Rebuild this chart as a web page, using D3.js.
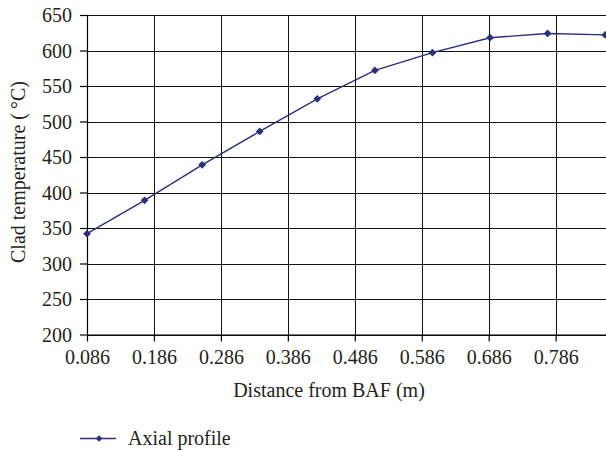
<!DOCTYPE html>
<html>
<head>
<meta charset="utf-8">
<script src="https://cdn.jsdelivr.net/npm/d3@7"></script>
<style>
  html, body { margin: 0; padding: 0; background: #fff; }
  svg { display: block; }
  text { font-family: "Liberation Serif", "Times New Roman", serif; fill: #231f20; }
</style>
</head>
<body>
<svg id="chart" width="606" height="450"></svg>
<script>
// Axial clad temperature profile along distance from the BAF
const distances = [0.086, 0.172, 0.258, 0.344, 0.430, 0.516, 0.602, 0.688, 0.774, 0.860];
const cladTemps = [342, 389, 439, 486, 532, 572, 597, 618, 624, 622];
const xTickValues = [0.086, 0.186, 0.286, 0.386, 0.486, 0.586, 0.686, 0.786];
const yTickValues = [200, 250, 300, 350, 400, 450, 500, 550, 600, 650];
const seriesName = "Axial profile";
const xTitle = "Distance from BAF (m)";
const yTitle = "Clad temperature (\u2009°C)";

const svg = d3.select("#chart");
const plotLeft = 87, plotTop = 15, plotBottom = 334.5, plotRight = 606;
const lineColor = "#2b2f7e";

const x = d3.scaleLinear().domain([0.086, 0.8612]).range([plotLeft, plotRight]);
const y = d3.scaleLinear().domain([200, 650]).range([plotBottom, plotTop]);

// grid lines
const grid = svg.append("g").attr("shape-rendering", "crispEdges");
grid.selectAll("line.h").data(yTickValues).join("line")
  .attr("class", "h")
  .attr("x1", plotLeft).attr("x2", plotRight)
  .attr("y1", d => Math.round(y(d)) + 0.5).attr("y2", d => Math.round(y(d)) + 0.5)
  .attr("stroke", "#111").attr("stroke-width", 1);
grid.selectAll("line.v").data(xTickValues).join("line")
  .attr("class", "v")
  .attr("x1", d => Math.round(x(d)) + 0.5).attr("x2", d => Math.round(x(d)) + 0.5)
  .attr("y1", plotTop).attr("y2", plotBottom)
  .attr("stroke", "#111").attr("stroke-width", 1);

// axes
const xAxis = d3.axisBottom(x).tickValues(xTickValues).tickFormat(d3.format(".3f"))
  .tickSize(7).tickSizeOuter(0).tickPadding(9);
const yAxis = d3.axisLeft(y).tickValues(yTickValues).tickFormat(d3.format("d"))
  .tickSize(7).tickSizeOuter(0).tickPadding(8);

const gx = svg.append("g").attr("transform", `translate(0,${plotBottom})`).call(xAxis);
const gy = svg.append("g").attr("transform", `translate(${plotLeft},0)`).call(yAxis);
[gx, gy].forEach(g => {
  g.select(".domain").attr("stroke", "#000").attr("stroke-width", 1.2);
  g.selectAll(".tick line").attr("stroke", "#000").attr("stroke-width", 1.2);
  g.selectAll(".tick text").attr("font-size", 20)
    .attr("font-family", "Liberation Serif, Times New Roman, serif").attr("fill", "#231f20");
});
gx.selectAll(".tick text").attr("dy", "0.68em");
gy.selectAll(".tick text").attr("dy", "0.34em");

// axis titles
svg.append("text")
  .attr("x", 329).attr("y", 397)
  .attr("text-anchor", "middle").attr("font-size", 20)
  .text(xTitle);
svg.append("text")
  .attr("transform", "translate(24.5,172) rotate(-90)")
  .attr("text-anchor", "middle").attr("font-size", 20)
  .text(yTitle);

// series line and diamond markers (squares turned 45°)
const line = d3.line().x((d, i) => x(distances[i])).y(d => y(d));
svg.append("path").datum(cladTemps)
  .attr("d", line).attr("fill", "none")
  .attr("stroke", lineColor).attr("stroke-width", 1.4);

const diamond = d3.symbol().type(d3.symbolSquare).size(30);
svg.selectAll("path.marker").data(cladTemps).join("path")
  .attr("class", "marker")
  .attr("d", diamond)
  .attr("transform", (d, i) => `translate(${x(distances[i])},${y(d)}) rotate(45)`)
  .attr("fill", lineColor);

// legend
const lg = svg.append("g");
lg.append("line").attr("x1", 80).attr("x2", 116).attr("y1", 438.5).attr("y2", 438.5)
  .attr("stroke", lineColor).attr("stroke-width", 1.4);
lg.append("path").attr("d", d3.symbol().type(d3.symbolSquare).size(22)())
  .attr("transform", "translate(99,438.5) rotate(45)").attr("fill", lineColor);
lg.append("text").attr("x", 128).attr("y", 445).attr("font-size", 20).text(seriesName);
</script>
</body>
</html>
